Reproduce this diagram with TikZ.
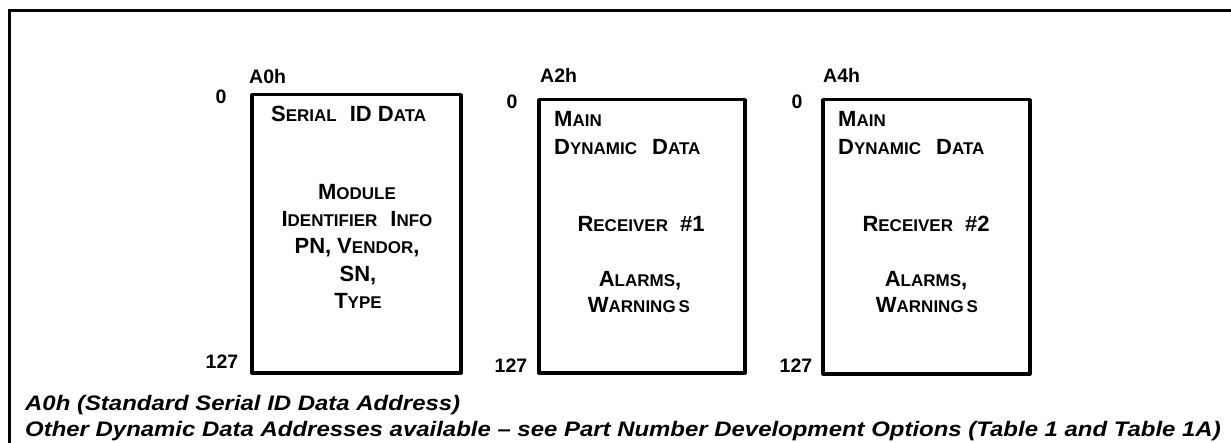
\documentclass[tikz,border=0pt]{standalone}
\usepackage{fontspec}
\setmainfont{Liberation Sans}
\newfontfamily\capfont[FakeStretch=1.14]{Liberation Sans}
\newcommand{\scW}[2]{{\fontsize{22}{22}\selectfont #1}{\fontsize{17}{17}\selectfont #2}}
\newcommand{\fullW}[1]{{\fontsize{22}{22}\selectfont #1}}
\tikzset{
  mem/.style={draw, line width=3.5pt, line join=round, minimum width=#1, anchor=north west, inner sep=0pt},
  lbl/.style={font=\fontsize{19.5}{19.5}\selectfont\bfseries, inner sep=0pt, anchor=base},
  sct/.style={font=\fontsize{22}{22}\selectfont\bfseries, inner sep=0pt, anchor=base},
  sctw/.style={sct, anchor=base west},
  captxt/.style={font=\capfont\fontsize{21}{21}\selectfont\bfseries\itshape, inner sep=0pt, anchor=base west}
}
\begin{document}
\begin{tikzpicture}[x=1pt,y=-1pt]
\clip (0,0) rectangle (1231,443);
\fill[white] (0,0) rectangle (1231,443);
\draw[line width=2.5pt] (9.5,10.5) rectangle (1300,520);

% memory boxes
\node[mem=209pt, minimum height=278pt] (b1) at (250,93) {};
\node[mem=206pt, minimum height=273pt] (b2) at (537,98) {};
\node[mem=207pt, minimum height=274pt] (b3) at (821,98) {};

% address labels
\node[lbl, anchor=base west] (a0) at (249,84) {A0h};
\node[lbl, anchor=base west] (a2) at (540,83) {A2h};
\node[lbl, anchor=base west] (a4) at (823,83) {A4h};
\node[lbl] (z1) at (221,104) {0};
\node[lbl] (z2) at (512,109) {0};
\node[lbl] (z3) at (797,109) {0};
\node[lbl] (e1) at (222,369) {127};
\node[lbl] (e2) at (511,373) {127};
\node[lbl] (e3) at (796,373) {127};

% box 1 text
\node[sctw] (t1a) at (271,122) {\scW{S}{ERIAL}\hspace{13pt}\fullW{ID}\hspace{6pt}\scW{D}{ATA}};
\node[sct] (t1b) at (357,200) {\scW{M}{ODULE}};
\node[sct] (t1c) at (357,227) {\scW{I}{DENTIFIER}\hspace{13pt}\scW{I}{NFO}};
\node[sct] (t1d) at (357,254) {\fullW{PN,}\hspace{6pt}\scW{V}{ENDOR}\fullW{,}};
\node[sct] (t1e) at (358,282) {\fullW{SN,}};
\node[sct] (t1f) at (358,309) {\scW{T}{YPE}};

% box 2 text
\node[sctw] (t2a) at (554,127) {\scW{M}{AIN}};
\node[sctw] (t2b) at (554,155) {\scW{D}{YNAMIC}\hspace{15pt}\scW{D}{ATA}};
\node[sct] (t2c) at (641,232) {\scW{R}{ECEIVER}\hspace{12pt}\fullW{\#1}};
\node[sct] (t2d) at (640,287) {\scW{A}{LARMS}\fullW{,}};
\node[sct] (t2e) at (639,313) {\scW{W}{ARNING\hspace{3pt}S}};

% box 3 text
\node[sctw] (t3a) at (838,127) {\scW{M}{AIN}};
\node[sctw] (t3b) at (838,155) {\scW{D}{YNAMIC}\hspace{15pt}\scW{D}{ATA}};
\node[sct] (t3c) at (926,232) {\scW{R}{ECEIVER}\hspace{12pt}\fullW{\#2}};
\node[sct] (t3d) at (926,287) {\scW{A}{LARMS}\fullW{,}};
\node[sct] (t3e) at (927,313) {\scW{W}{ARNING\hspace{3pt}S}};

% caption
\node[captxt] (c1) at (25,410) {A0h (Standard Serial ID Data Address)};
\node[captxt] (c2) at (25,436) {Other Dynamic Data Addresses available – see Part Number Development Options (Table 1 and Table 1A)};
\end{tikzpicture}
\end{document}
